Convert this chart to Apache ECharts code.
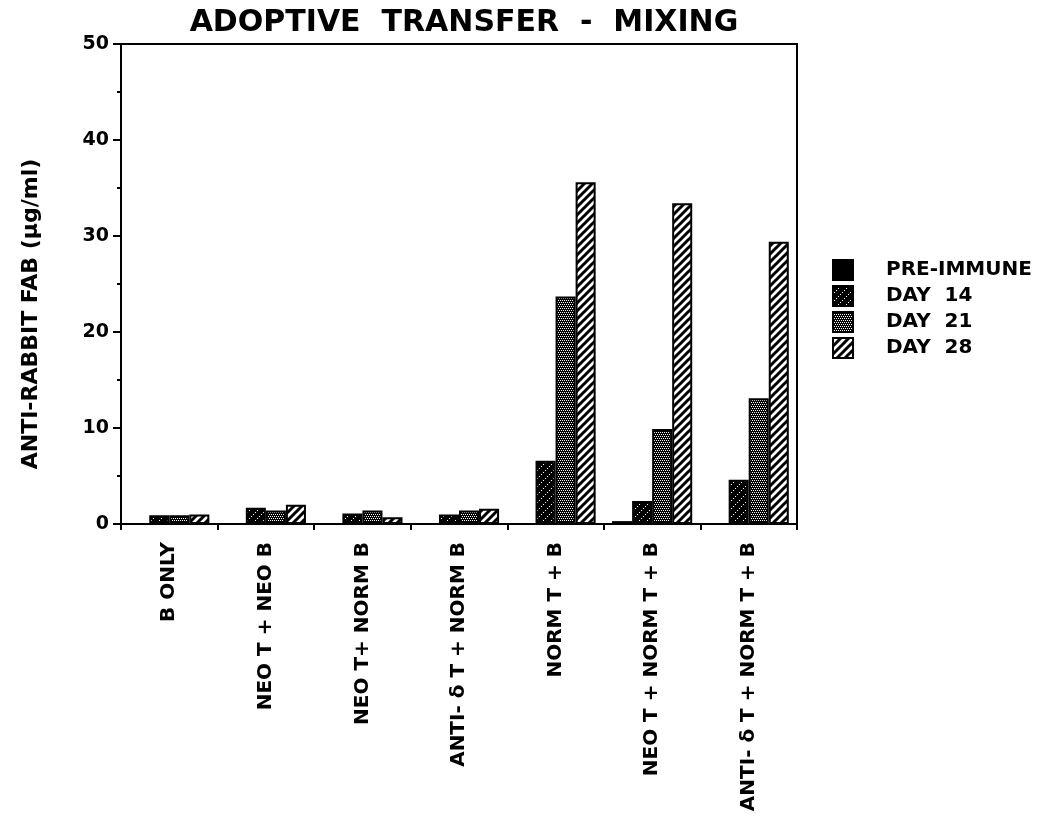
<!DOCTYPE html>
<html>
<head>
<meta charset="utf-8">
<script src="https://cdn.jsdelivr.net/npm/echarts@6/dist/echarts.min.js"></script>
<style>
html,body{margin:0;padding:0;background:#fff;}
#chart{width:1046px;height:833px;}
</style>
</head>
<body>
<div id="chart"></div>
<script>
const categories = ["B ONLY", "NEO T + NEO B", "NEO T+ NORM B", "ANTI- δ T + NORM B", "NORM T + B", "NEO T + NORM T + B", "ANTI- δ T + NORM T + B"];
const seriesNames = ["PRE-IMMUNE", "DAY  14", "DAY  21", "DAY  28"];
const preImmune = [0, 0, 0, 0, 0, 0.3, 0];
const day14 = [0.9, 1.7, 1.1, 1.0, 6.6, 2.4, 4.6];
const day21 = [0.9, 1.4, 1.4, 1.4, 23.7, 9.9, 13.1];
const day28 = [1.0, 2.0, 0.7, 1.6, 35.6, 33.4, 29.4];
const yTicks = [0, 10, 20, 30, 40, 50];
const yAxisTitle = 'ANTI-RABBIT FAB (µg/ml)';

const FONT = '"DejaVu Sans", "Liberation Sans", sans-serif';

function makeCanvas(w, h, draw) {
  const c = document.createElement('canvas');
  c.width = w; c.height = h;
  const ctx = c.getContext('2d');
  draw(ctx);
  return c;
}
const solid = '#000';
const pat14 = makeCanvas(8, 8, ctx => {
  ctx.fillStyle = '#000'; ctx.fillRect(0, 0, 8, 8);
  ctx.fillStyle = '#fff';
  [[7,0],[5,2],[3,4],[1,6]].forEach(p => ctx.fillRect(p[0], p[1], 1, 1));
});
const pat21 = makeCanvas(4, 4, ctx => {
  ctx.fillStyle = '#000'; ctx.fillRect(0, 0, 4, 4);
  ctx.fillStyle = '#fff';
  [[0,0],[2,0],[1,2],[3,2]].forEach(p => ctx.fillRect(p[0], p[1], 1, 1));
});
const pat28 = makeCanvas(8, 8, ctx => {
  ctx.fillStyle = '#fff'; ctx.fillRect(0, 0, 8, 8);
  ctx.strokeStyle = '#000'; ctx.lineWidth = 3;
  ctx.beginPath();
  ctx.moveTo(-2, 10); ctx.lineTo(10, -2);
  ctx.moveTo(-6, 6); ctx.lineTo(6, -6);
  ctx.moveTo(2, 14); ctx.lineTo(14, 2);
  ctx.stroke();
});
const fills = [solid, {image: pat14, repeat: 'repeat'}, {image: pat21, repeat: 'repeat'}, {image: pat28, repeat: 'repeat'}];
const values = [preImmune, day14, day21, day28];

const chart = echarts.init(document.getElementById('chart'));
chart.setOption({
  animation: false,
  backgroundColor: '#fff',
  title: {
    text: 'ADOPTIVE  TRANSFER  -  MIXING',
    left: 459, top: 3, textAlign: 'center',
    textStyle: {fontFamily: FONT, fontWeight: 'bold', fontSize: 30, color: '#000'}
  },
  legend: {
    orient: 'vertical', left: 832, top: 259,
    itemWidth: 20, itemHeight: 20, itemGap: 4, padding: 0,
    icon: 'rect',
    data: seriesNames,
    textStyle: {fontFamily: FONT, fontWeight: 'bold', fontSize: 20, lineHeight: 20, color: '#000', padding: [0, 0, 0, 28]}
  },
  graphic: [{
    type: 'text', x: 31, y: 314, rotation: Math.PI / 2,
    style: {text: yAxisTitle, align: 'center', verticalAlign: 'middle',
      font: 'bold 22px ' + FONT, fill: '#000'}
  }],
  grid: {
    left: 121, right: 249, top: 44, bottom: 309,
    show: true, borderColor: '#000', borderWidth: 2, backgroundColor: 'transparent'
  },
  xAxis: {
    type: 'category', data: categories,
    axisLine: {lineStyle: {color: '#000', width: 2}},
    axisTick: {show: true, length: 6, lineStyle: {color: '#000', width: 2}},
    axisLabel: {rotate: 90, margin: 18, interval: 0, fontFamily: FONT, fontWeight: 'bold', fontSize: 20, color: '#000'}
  },
  yAxis: {
    type: 'value', min: 0, max: 50, interval: 10,
    axisLine: {show: true, lineStyle: {color: '#000', width: 2}},
    axisTick: {show: true, length: 8, lineStyle: {color: '#000', width: 2}},
    minorTick: {show: true, splitNumber: 2, length: 4, lineStyle: {color: '#000', width: 2}},
    splitLine: {show: false},
    axisLabel: {margin: 12, fontFamily: FONT, fontWeight: 'bold', fontSize: 19, color: '#000',
      formatter: v => yTicks.includes(v) ? String(v) : ''}
  },
  series: seriesNames.map((n, i) => ({
    name: n, type: 'bar', data: values[i],
    barGap: '0%', barCategoryGap: '17%',
    itemStyle: {color: fills[i], borderColor: '#000', borderWidth: 2}
  }))
});
</script>
</body>
</html>
